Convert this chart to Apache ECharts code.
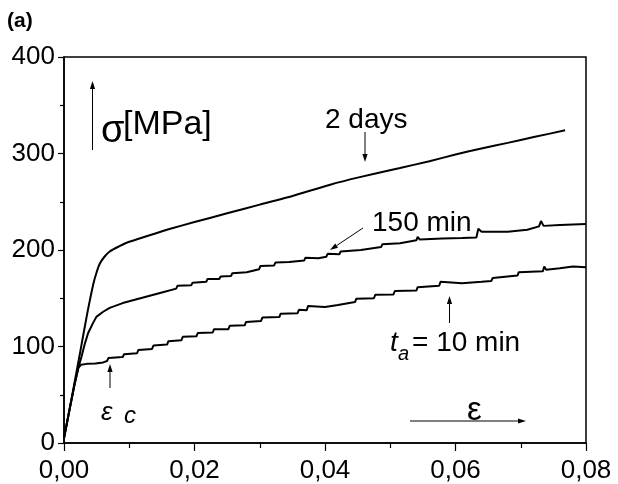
<!DOCTYPE html>
<html><head><meta charset="utf-8">
<script src="https://cdn.jsdelivr.net/npm/echarts@6/dist/echarts.min.js"></script>
<style>html,body{margin:0;padding:0;background:#fff}#c{width:618px;height:484px}</style>
</head><body><div id="c"></div>
<script>
// ---- data (strain, stress MPa) ----
var xTicks = [0, 0.02, 0.04, 0.06, 0.08];
var yTicks = [0, 100, 200, 300, 400];

var strain2d = [0, .0008, .0016, .0025, .0035, .0045, .0050, .0055, .0062, .0070, .0085, .0096, .0130, .0163, .0200, .0250, .0300, .0350, .0408, .0450, .0515, .0560, .0600, .0638, .0680, .0720, .0768];
var stress2d = [5, 33, 62, 95, 132, 165, 177, 186, 193, 198.5, 204, 207.5, 215, 222, 229, 238, 247, 256, 267.7, 275, 285, 292, 299, 305, 311, 317, 324];

var strain150 = [0, .0008, .0016, .0022, .0027, .0032, .0037, .0045, .0050, .0060, .0070, .0090, .0120, .0150, .0172, .0174, .0177, .0195, .0197, .0200, .0218, .0220, .0223, .0238, .0240, .0243, .0256, .0258, .0261, .0280, .0299, .0301, .0304, .0322, .0324, .0327, .0345, .0368, .0370, .0373, .0390, .0402, .0404, .0407, .0422, .0424, .0427, .0455, .0486, .0488, .0491, .0515, .0540, .0542, .0545, .0580, .0610, .0632, .0635, .0640, .0680, .0710, .0728, .0731, .0735, .0760, .0800];
var stress150 = [5, 33, 60, 78, 90, 103, 114, 125, 131, 136, 140, 145, 150.5, 156, 160, 163, 161, 163.5, 166, 164.5, 167, 170, 168, 170, 172.5, 171, 173, 176, 174.5, 177, 180, 183.5, 181.5, 184, 187, 185.5, 187.5, 189, 192, 190.5, 191.5, 193, 196, 194.5, 195.5, 198.5, 197, 200, 203, 206, 204.5, 207, 210, 213.5, 211, 212, 212.5, 213, 222, 219, 219, 221, 224.5, 230, 225, 226, 227];

var strain10 = [0, .0008, .0016, .0022, .0026, .0035, .0048, .0060, .0066, .0068, .0071, .0090, .0092, .0095, .0112, .0114, .0117, .0135, .0137, .0140, .0158, .0160, .0163, .0180, .0182, .0185, .0203, .0205, .0208, .0228, .0230, .0233, .0252, .0254, .0257, .0277, .0279, .0282, .0302, .0304, .0307, .0330, .0332, .0335, .0358, .0360, .0363, .0372, .0374, .0377, .0400, .0420, .0446, .0448, .0451, .0475, .0477, .0480, .0505, .0507, .0510, .0540, .0542, .0545, .0575, .0577, .0580, .0610, .0640, .0655, .0657, .0660, .0695, .0697, .0700, .0734, .0736, .0739, .0760, .0780, .0800];
var stress10 = [5, 33, 60, 78, 81, 82, 82.5, 83.5, 85, 88, 86, 89, 92, 90, 93, 96.5, 94.5, 97.5, 101, 99, 102, 105.5, 103.5, 106.5, 110, 108, 110.5, 114, 112, 114.5, 118, 116, 118, 121.5, 120, 122, 125.5, 124, 126.5, 130, 128, 130.5, 134, 132, 134.5, 138, 136.5, 137.5, 142, 140.5, 141, 143, 146, 149.5, 147.5, 150, 153.5, 151.5, 154, 157.5, 155.5, 158, 161.5, 160, 163, 167, 165, 165.5, 167, 168, 171, 169, 173.5, 177, 175, 178, 183, 179.5, 181, 183, 182];

function pairs(xs, ys) { return xs.map(function (x, i) { return [x, ys[i]]; }); }

var FONT = '"Liberation Sans", Arial, sans-serif';

function arrow(x1, y1, x2, y2) {
  var dx = x2 - x1, dy = y2 - y1, L = Math.sqrt(dx * dx + dy * dy);
  var ux = dx / L, uy = dy / L, hl = 8, hw = 2.6;
  var bx = x2 - ux * hl, by = y2 - uy * hl;
  return [
    { type: 'line', shape: { x1: x1, y1: y1, x2: bx, y2: by }, style: { stroke: '#000', lineWidth: 1 } },
    { type: 'polygon', shape: { points: [[x2, y2], [bx - uy * hw, by + ux * hw], [bx + uy * hw, by - ux * hw]] }, style: { fill: '#000' } }
  ];
}
function txt(x, y, s, font) {
  return { type: 'text', x: x, y: y, style: { text: s, font: font, fill: '#000', align: 'left', verticalAlign: 'middle' } };
}

var graphics = [].concat(
  [txt(7, 21, '(a)', 'bold 21px ' + FONT)],
  arrow(92.5, 150, 92.5, 81),
  [txt(101, 132, 'σ', '38px ' + FONT), txt(123, 125, '[MPa]', '34px ' + FONT)],
  [txt(325, 120, '2 days', '28px ' + FONT)],
  arrow(365, 132, 365, 162),
  [txt(372, 223, '150 min', '28px ' + FONT)],
  arrow(363, 228, 330, 250),
  [txt(390, 343, 't', 'italic 28px ' + FONT), txt(398, 354, 'a', 'italic 20px ' + FONT), txt(412, 343, '= 10 min', '28px ' + FONT)],
  arrow(449.5, 323, 449.5, 296),
  [txt(101, 413, 'ε', 'italic 26px ' + FONT), txt(124, 416, 'c', 'italic 24px ' + FONT)],
  arrow(110, 388, 110, 364),
  arrow(410, 421, 526, 421),
  [txt(467, 411, 'ε', '33px ' + FONT)]
);

var chart = echarts.init(document.getElementById('c'), null, { renderer: 'canvas' });
chart.setOption({
  animation: false,
  backgroundColor: '#fff',
  grid: { left: 64, right: 32, top: 57, bottom: 41, show: true, borderColor: '#000', borderWidth: 1.5, backgroundColor: 'transparent' },
  xAxis: {
    type: 'value', min: xTicks[0], max: xTicks[xTicks.length - 1], interval: xTicks[1] - xTicks[0],
    axisLine: { show: true, onZero: false, lineStyle: { color: '#000', width: 1.5 } },
    axisTick: { show: true, inside: false, length: 8, lineStyle: { color: '#000', width: 1.2 } },
    minorTick: { show: true, splitNumber: 2, length: 5, lineStyle: { color: '#000', width: 1.2 } },
    splitLine: { show: false },
    axisLabel: { margin: 15, color: '#000', fontFamily: FONT, fontSize: 26, formatter: function (v) { return v.toFixed(2).replace('.', ','); } }
  },
  yAxis: {
    type: 'value', min: yTicks[0], max: yTicks[yTicks.length - 1], interval: yTicks[1] - yTicks[0],
    axisLine: { show: true, onZero: false, lineStyle: { color: '#000', width: 1.5 } },
    axisTick: { show: true, inside: false, length: 6, lineStyle: { color: '#000', width: 1.2 } },
    minorTick: { show: true, splitNumber: 2, length: 4, lineStyle: { color: '#000', width: 1.2 } },
    splitLine: { show: false },
    axisLabel: { margin: 9, color: '#000', fontFamily: FONT, fontSize: 26 }
  },
  series: [
    { name: '2 days', type: 'line', data: pairs(strain2d, stress2d), showSymbol: false, smooth: 0.2, lineStyle: { color: '#000', width: 2 }, clip: true },
    { name: '150 min', type: 'line', data: pairs(strain150, stress150), showSymbol: false, lineStyle: { color: '#000', width: 2 }, clip: true },
    { name: '10 min', type: 'line', data: pairs(strain10, stress10), showSymbol: false, lineStyle: { color: '#000', width: 2 }, clip: true }
  ],
  graphic: graphics
});
</script></body></html>
